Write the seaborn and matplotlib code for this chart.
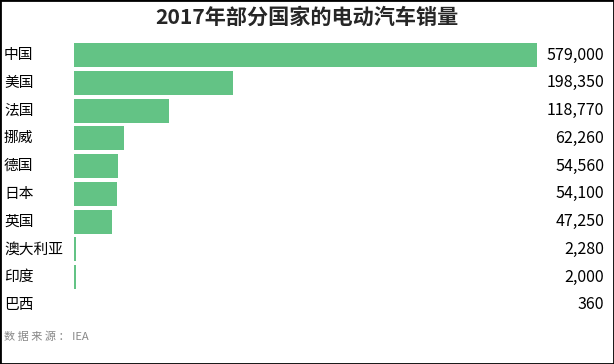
import matplotlib.pyplot as plt
import seaborn as sns
import pandas as pd
from matplotlib.patches import Rectangle

# 数据
countries = ['中国', '美国', '法国', '挪威', '德国', '日本', '英国', '澳大利亚', '印度', '巴西']
sales = [579000, 198350, 118770, 62260, 54560, 54100, 47250, 2280, 2000, 360]

df = pd.DataFrame({'国家': countries, '销量': sales})

sns.set_style('white')
plt.rcParams['font.family'] = ['Noto Sans CJK SC', 'DejaVu Sans']

fig = plt.figure(figsize=(6.14, 3.64), dpi=100)
ax = fig.add_axes([0.1205, 0.124, 0.754, 0.763])

sns.barplot(data=df, y='国家', x='销量', color='#63c385', saturation=1, width=0.86,
            linewidth=0, ax=ax)
ax.set_xlim(0, 579000)
ax.set_ylim(len(countries) - 0.5, -0.5)
ax.set_xlabel('')
ax.set_ylabel('')
ax.set_xticks([])
ax.set_yticks([])
sns.despine(ax=ax, left=True, bottom=True)

for i, (c, v) in enumerate(zip(countries, sales)):
    y = fig.transFigure.inverted().transform(ax.transData.transform((0, i)))[1]
    fig.text(4 / 614, y, c, ha='left', va='center', fontsize=10.6, color='black')
    fig.text(604 / 614, y, f'{v:,}', ha='right', va='center', fontsize=11.5, color='black')

fig.text(0.5, 1 - 17 / 364, '2017年部分国家的电动汽车销量', ha='center', va='center',
         fontsize=15.2, fontweight='bold')
fig.text(4 / 614, 1 - 337 / 364, '数 据 来 源 ： IEA', ha='left', va='center',
         fontsize=8, color='#888888')

fig.patches.append(Rectangle((0, 0), 1, 1, transform=fig.transFigure, fill=False,
                             edgecolor='black', linewidth=2))

fig.savefig('out.png', dpi=100)
